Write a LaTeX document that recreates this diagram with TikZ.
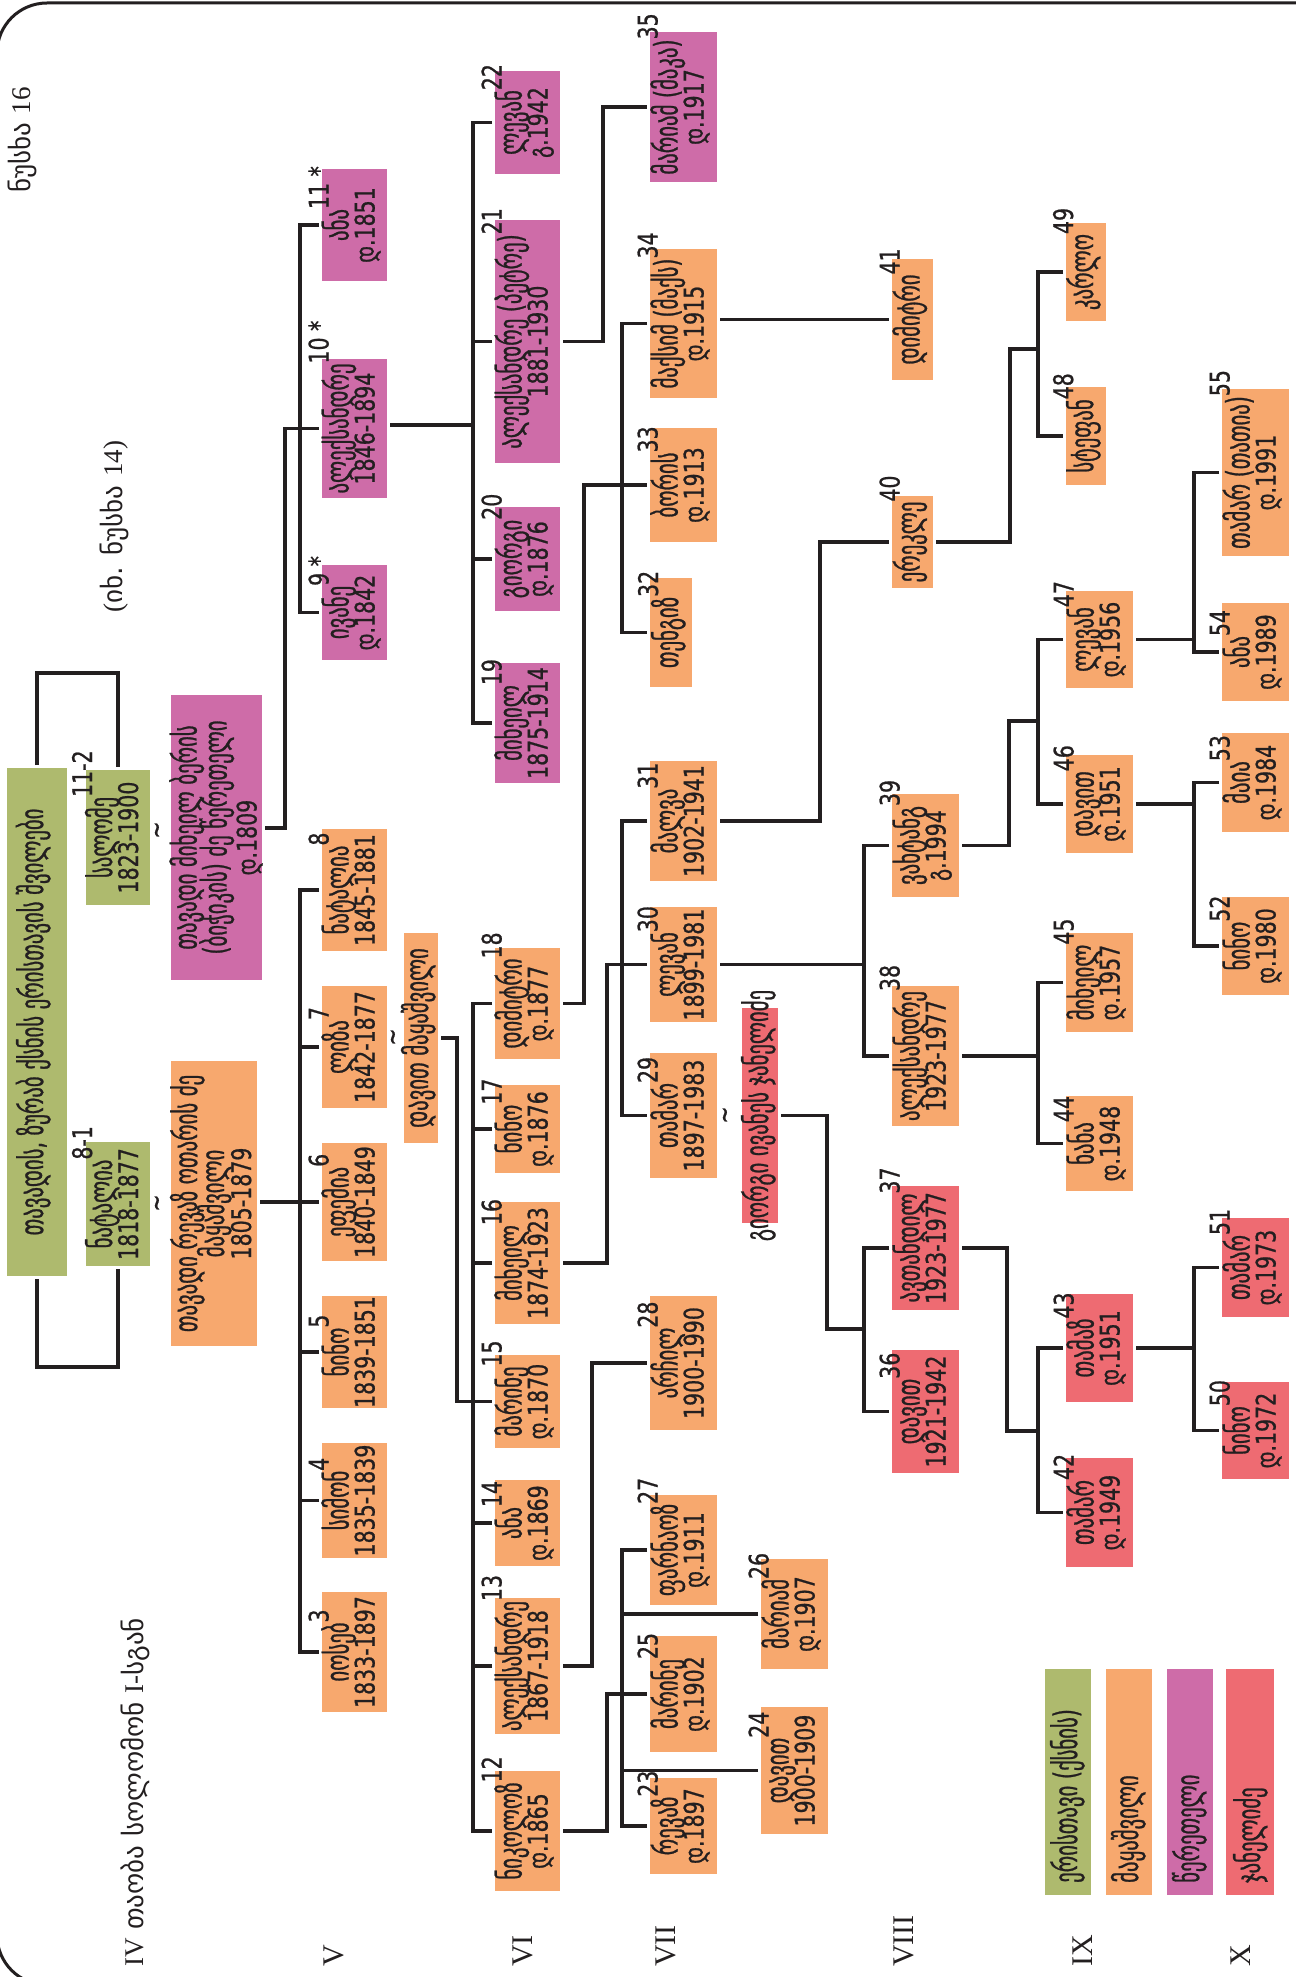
\documentclass[tikz,border=0pt]{standalone}
\usepackage{fontspec}
\setmainfont{DejaVu Sans}
\newfontfamily\bxf[FakeStretch=0.76,FakeBold=0.8]{DejaVu Sans}
\newfontfamily\gx[FakeStretch=0.64,FakeBold=0.8,Scale=1.2]{DejaVu Sans}
\newfontfamily\geo{DejaVu Sans}
\newfontfamily\ser{Liberation Serif}
\usetikzlibrary{calc}
\definecolor{cgreen}{HTML}{AEBA6E}
\definecolor{corange}{HTML}{F7A86E}
\definecolor{cpurple}{HTML}{CE6CA8}
\definecolor{cred}{HTML}{EE6B72}
\definecolor{cline}{HTML}{231F20}
\tikzset{
 bx/.style={inner sep=0pt, outer sep=3pt, draw=none},
 rot/.style={rotate=90, inner sep=0pt},
 txt/.style={rotate=90, inner sep=0pt, text=cline, font=\bxf\fontsize{27}{27}\selectfont},
 conn/.style={draw=cline, line width=3.2pt},
 hdr/.style={rotate=90, inner sep=0pt, text=cline, font=\fontsize{27}{27}\selectfont},
 roman/.style={rotate=90, inner sep=0pt, text=cline, font=\ser\fontsize{30}{30}\selectfont},
}
\newcommand\lab[1]{\makebox[0pt][l]{\bxf\raisebox{20pt}{#1}}}
\newcommand\tbx[9]{%
 \node[bx, fill=#2, minimum width={#5-#3}, minimum height={#6-#4}] (#1) at ({(#3+#5)/2},{(#4+#6)/2}) {};
 \node[txt, anchor=base] (#1-a) at ($(#1.center)+(-6,0)$) {{\gx #7}\lab{#9}};
 \node[txt, anchor=base] (#1-b) at ($(#1.center)+(20,0)$) {#8};
}
\newcommand\obx[8]{%
 \node[bx, fill=#2, minimum width={#5-#3}, minimum height={#6-#4}] (#1) at ({(#3+#5)/2},{(#4+#6)/2}) {};
 \node[txt, anchor=base] (#1-a) at ($(#1.center)+(7,0)$) {{\gx #7}\lab{#8}};
}
\begin{document}
\begin{tikzpicture}[x=1pt,y=-1pt]
\useasboundingbox (0,0) rectangle (1295,1977);
\fill[white] (0,0) rectangle (1295,1977);
% frame
\draw[draw=cline, line width=3pt, rounded corners=50pt] (1400,3) -- (-3,3) -- (-3,1985) -- (1400,1985);

% headers
\node[hdr, anchor=base west] (h1) at (30,193) {{\geo ნუსხა} {\ser 16}};
\node[hdr, anchor=base west] (h2) at (122,613) {{\ser (}{\geo იხ. ნუსხა} {\ser 14)}};
\node[hdr, anchor=base west] (h3) at (143,1967) {{\ser IV} {\geo თაობა სოლომონ} {\ser I-}{\geo სგან}};
\node[roman, anchor=base west] (r5) at (343,1967) {V};
\node[roman, anchor=base west] (r6) at (532,1967) {VI};
\node[roman, anchor=base west] (r7) at (675,1967) {VII};
\node[roman, anchor=base west] (r8) at (913,1967) {VIII};
\node[roman, anchor=base west] (r9) at (1092,1967) {IX};
\node[roman, anchor=base west] (r10) at (1250,1967) {X};

% green generation
\node[bx, fill=cgreen, minimum width=60, minimum height=508] (t) at (37,1022) {};
\node[txt, anchor=base] (t-a) at ($(t.center)+(6,0)$) {\gx თავადის, ზურაბ ქსნის ერისთავის შვილები};
\tbx{n112}{cgreen}{86}{770}{150}{905}{სალომე}{1823-1900}{11-2}
\tbx{n81}{cgreen}{86}{1142}{150}{1266}{ნატალია}{1818-1877}{8-1}
\draw[conn] (t.north) -- (t.north |- 0,673) -| (n112.north);
\draw[conn] (t.south) -- (t.south |- 0,1367) -| (n81.south);

% spouses IV
\node[txt] (tl1) at (160,830) {\textasciitilde};
\node[txt] (tl2) at (160,1203) {\textasciitilde};
\node[bx, fill=cpurple, minimum width=91, minimum height=285] (pb) at (216.5,837.5) {};
\node[txt, anchor=base] (pb-a) at ($(pb.center)+(-20,0)$) {\gx თავადი მიხეილ ბერის};
\node[txt, anchor=base] (pb-b) at ($(pb.center)+(10,0)$) {\gx (ბიჭიკის) ძე წერეთელი};
\node[txt, anchor=base] (pb-c) at ($(pb.center)+(40,0)$) {დ.1809};
\node[bx, fill=corange, minimum width=86, minimum height=285] (ob) at (214,1203.5) {};
\node[txt, anchor=base] (ob-a) at ($(ob.center)+(-17,0)$) {\gx თავადი რევაზ ოთარის ძე};
\node[txt, anchor=base] (ob-b) at ($(ob.center)+(10,0)$) {\gx მაყაშვილი};
\node[txt, anchor=base] (ob-c) at ($(ob.center)+(37,0)$) {1805-1879};

% V
\tbx{n11}{cpurple}{322}{169}{387}{281}{ანა}{დ.1851}{11 *}
\tbx{n10}{cpurple}{322}{359}{387}{498}{ალექსანდრე}{1846-1894}{10 *}
\tbx{n9}{cpurple}{322}{565}{387}{660}{ივანე}{დ.1842}{9 *}
\tbx{n8}{corange}{322}{829}{387}{951}{ნატალია}{1845-1881}{8}
\tbx{n7}{corange}{322}{986}{387}{1108}{ლიზა}{1842-1877}{7}
\tbx{n6}{corange}{322}{1143}{387}{1261}{ეფემია}{1840-1849}{6}
\tbx{n5}{corange}{322}{1296}{387}{1408}{ნინო}{1839-1851}{5}
\tbx{n4}{corange}{322}{1443}{387}{1558}{სიმონ}{1835-1839}{4}
\tbx{n3}{corange}{322}{1592}{387}{1712}{იოსებ}{1833-1897}{3}
\node[bx, fill=corange, minimum width=34, minimum height=210] (dm) at (421,1038) {};
\node[txt, anchor=base] (dm-a) at ($(dm.center)+(7,0)$) {\gx დავით მაყაშვილი};
\node[txt] (tl3) at (396,1037) {\textasciitilde};

% VI
\tbx{n22}{cpurple}{495}{71}{560}{174}{ლევან}{გ.1942}{22}
\tbx{n21}{cpurple}{495}{220}{560}{463}{ალექსანდრე (პეტრე)}{1881-1930}{21}
\tbx{n20}{cpurple}{495}{507}{560}{611}{გიორგი}{დ.1876}{20}
\tbx{n19}{cpurple}{495}{663}{560}{783}{მიხეილ}{1875-1914}{19}
\tbx{n18}{corange}{495}{948}{560}{1059}{დიმიტრი}{დ.1877}{18}
\tbx{n17}{corange}{495}{1085}{560}{1173}{ნინო}{დ.1876}{17}
\tbx{n16}{corange}{495}{1202}{560}{1324}{მიხეილ}{1874-1923}{16}
\tbx{n15}{corange}{495}{1355}{560}{1448}{მარინე}{დ.1870}{15}
\tbx{n14}{corange}{495}{1480}{560}{1566}{ანა}{დ.1869}{14}
\tbx{n13}{corange}{495}{1598}{560}{1734}{ალექსანდრე}{1867-1918}{13}
\tbx{n12}{corange}{495}{1771}{560}{1891}{ნიკოლოზ}{დ.1865}{12}

% VII
\tbx{n35}{cpurple}{650}{32}{717}{182}{მარიამ (მაკა)}{დ.1917}{35}
\tbx{n34}{corange}{650}{249}{717}{398}{მაქსიმ (მაქს)}{დ.1915}{34}
\tbx{n33}{corange}{650}{428}{717}{542}{ბორის}{დ.1913}{33}
\obx{n32}{corange}{650}{578}{692}{687}{თენგიზ}{32}
\tbx{n31}{corange}{650}{761}{717}{881}{მალვა}{1902-1941}{31}
\tbx{n30}{corange}{650}{907}{717}{1022}{ლევან}{1899-1981}{30}
\tbx{n29}{corange}{650}{1053}{717}{1178}{თამარ}{1897-1983}{29}
\tbx{n28}{corange}{650}{1296}{717}{1430}{არჩილ}{1900-1990}{28}
\tbx{n27}{corange}{650}{1495}{717}{1605}{ფარნაოზ}{დ.1911}{27}
\tbx{n26}{corange}{761}{1559}{828}{1669}{მარიამ}{დ.1907}{26}
\tbx{n25}{corange}{650}{1636}{717}{1752}{მარინე}{დ.1902}{25}
\tbx{n24}{corange}{761}{1707}{828}{1834}{დავით}{1900-1909}{24}
\tbx{n23}{corange}{650}{1778}{717}{1874}{რევაზ}{დ.1897}{23}
\node[bx, fill=cred, minimum width=36, minimum height=215] (sp) at (760,1115.5) {};
\node[txt, anchor=base] (sp-a) at ($(sp.center)+(8,0)$) {\gx გიორგი ივანეს ჯანელიძე};
\node[txt] (tl4) at (728,1115) {\textasciitilde};

% VIII
\obx{n41}{corange}{892}{259}{933}{380}{დიმიტრი}{41}
\obx{n40}{corange}{892}{496}{933}{588}{ერეკლე}{40}
\tbx{n39}{corange}{892}{794}{959}{897}{ვახტანგ}{გ.1994}{39}
\tbx{n38}{corange}{892}{986}{959}{1126}{ალექსანდრე}{1923-1977}{38}
\tbx{n37}{cred}{892}{1186}{959}{1310}{ავთანდილ}{1923-1977}{37}
\tbx{n36}{cred}{892}{1350}{959}{1473}{დავით}{1921-1942}{36}

% IX
\obx{n49}{corange}{1066}{223}{1106}{321}{კარლო}{49}
\obx{n48}{corange}{1066}{387}{1106}{485}{სტეფან}{48}
\tbx{n47}{corange}{1066}{591}{1133}{688}{ლევან}{დ.1956}{47}
\tbx{n46}{corange}{1066}{755}{1133}{853}{დავით}{დ.1951}{46}
\tbx{n45}{corange}{1066}{933}{1133}{1032}{მიხეილ}{დ.1957}{45}
\tbx{n44}{corange}{1066}{1096}{1133}{1191}{ნანა}{დ.1948}{44}
\tbx{n43}{cred}{1066}{1294}{1133}{1402}{თამაზ}{დ.1951}{43}
\tbx{n42}{cred}{1066}{1458}{1133}{1567}{თამარ}{დ.1949}{42}

% X
\tbx{n55}{corange}{1222}{389}{1289}{556}{თამარ (თათია)}{დ.1991}{55}
\tbx{n54}{corange}{1222}{603}{1289}{701}{ანა}{დ.1989}{54}
\tbx{n53}{corange}{1222}{733}{1289}{832}{მაია}{დ.1984}{53}
\tbx{n52}{corange}{1222}{897}{1289}{995}{ნინო}{დ.1980}{52}
\tbx{n51}{cred}{1222}{1218}{1289}{1317}{თამარ}{დ.1973}{51}
\tbx{n50}{cred}{1222}{1382}{1289}{1479}{ნინო}{დ.1972}{50}

% legend
\node[bx, fill=cgreen, minimum width=46, minimum height=226] (lg1) at (1068,1782) {};
\node[bx, fill=corange, minimum width=46, minimum height=226] (lg2) at (1129,1782) {};
\node[bx, fill=cpurple, minimum width=46, minimum height=226] (lg3) at (1190,1782) {};
\node[bx, fill=cred, minimum width=48, minimum height=226] (lg4) at (1250,1782) {};
\node[txt, anchor=base west] (lg1-a) at (1077,1883) {\gx ერისთავი (ქსნის)};
\node[txt, anchor=base west] (lg2-a) at (1138,1883) {\gx მაყაშვილი};
\node[txt, anchor=base west] (lg3-a) at (1199,1883) {\gx წერეთელი};
\node[txt, anchor=base west] (lg4-a) at (1260,1883) {\gx ჯანელიძე};

% connectors
\draw[conn] (n11.west) -- (n11.west -| 300,0) -- (n9.west -| 300,0) -- (n9.west);
\draw[conn] (pb.east |- 0,828) -- (285,828) |- (n10.west);
\draw[conn] (n8.west) -- (n8.west -| 300,0) -- (n3.west -| 300,0) -- (n3.west);
\draw[conn] (n7.west) -- (n7.west -| 300,0);
\draw[conn] (n5.west) -- (n5.west -| 300,0);
\draw[conn] (n4.west) -- (n4.west -| 300,0);
\draw[conn] (ob.east |- n6.west) -- (n6.west);

\draw[conn] (n22.west) -- (n22.west -| 473,0) -- (n19.west -| 473,0) -- (n19.west);
\draw[conn] (n21.west) -- (n21.west -| 473,0);
\draw[conn] (n20.west) -- (n20.west -| 473,0);
\draw[conn] (n10.east |- 0,425) -- (473,425);

\draw[conn] (n18.west) -- (n18.west -| 473,0) -- (n12.west -| 473,0) -- (n12.west);
\foreach \n in {n17,n16,n14,n13} \draw[conn] (\n.west) -- (\n.west -| 473,0);
\draw[conn] (dm.east) -- (dm.east -| 457,0) |- (n15.west);

\draw[conn] (n21.east) -- (n21.east -| 603,0) |- (n35.west);
\draw[conn] (n34.west) -- (n34.west -| 622,0) -- (n32.west -| 622,0) -- (n32.west);
\draw[conn] (n18.east) -- (n18.east -| 584,0) |- (n33.west);
\draw[conn] (n31.west) -- (n31.west -| 622,0) -- (n29.west -| 622,0) -- (n29.west);
\draw[conn] (n16.east) -- (n16.east -| 607,0) |- (n30.west);
\draw[conn] (n13.east) -- (n13.east -| 592,0) |- (n28.west);
\draw[conn] (n27.west) -- (n27.west -| 622,0) -- (n23.west -| 622,0) -- (n23.west);
\draw[conn] (n26.west) -- (n26.west -| 622,0);
\draw[conn] (n24.west) -- (n24.west -| 622,0);
\draw[conn] (n12.east) -- (n12.east -| 607,0) |- (n25.west);

\draw[conn] (n34.east |- n41.west) -- (n41.west);
\draw[conn] (n31.east) -- (n31.east -| 820,0) |- (n40.west);
\draw[conn] (n39.west) -- (n39.west -| 864,0) -- (n38.west -| 864,0) -- (n38.west);
\draw[conn] (n30.east) -- (n30.east -| 864,0);
\draw[conn] (n37.west) -- (n37.west -| 864,0) -- (n36.west -| 864,0) -- (n36.west);
\draw[conn] (sp.east) -- (sp.east -| 827,0) |- (864,1329);

\draw[conn] (n49.west) -- (n49.west -| 1038,0) -- (n48.west -| 1038,0) -- (n48.west);
\draw[conn] (n40.east) -- (n40.east -| 1010,0) |- (1038,349);
\draw[conn] (n47.west) -- (n47.west -| 1038,0) -- (n46.west -| 1038,0) -- (n46.west);
\draw[conn] (n39.east) -- (n39.east -| 1009,0) |- (1038,721);
\draw[conn] (n45.west) -- (n45.west -| 1038,0) -- (n44.west -| 1038,0) -- (n44.west);
\draw[conn] (n38.east) -- (n38.east -| 1038,0);
\draw[conn] (n43.west) -- (n43.west -| 1038,0) -- (n42.west -| 1038,0) -- (n42.west);
\draw[conn] (n37.east) -- (n37.east -| 1007,0) |- (1038,1431);

\draw[conn] (n55.west) -- (n55.west -| 1194,0) -- (n54.west -| 1194,0) -- (n54.west);
\draw[conn] (n47.east) -- (n47.east -| 1194,0);
\draw[conn] (n53.west) -- (n53.west -| 1194,0) -- (n52.west -| 1194,0) -- (n52.west);
\draw[conn] (n46.east) -- (n46.east -| 1194,0);
\draw[conn] (n51.west) -- (n51.west -| 1194,0) -- (n50.west -| 1194,0) -- (n50.west);
\draw[conn] (n43.east) -- (n43.east -| 1194,0);
\end{tikzpicture}
\end{document}
